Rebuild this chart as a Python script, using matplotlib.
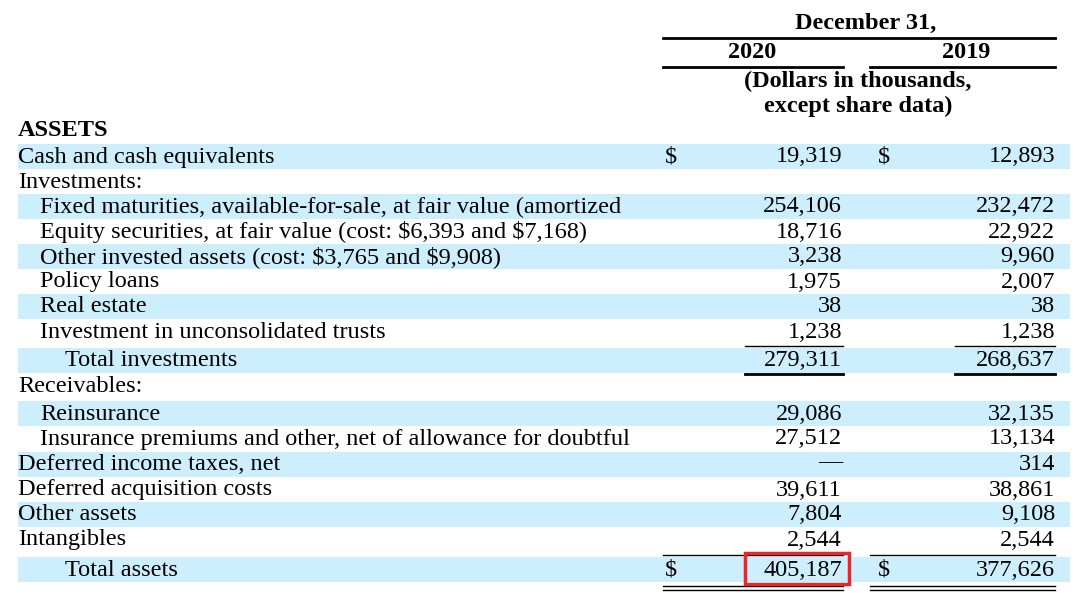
import matplotlib
matplotlib.use("Agg")
import matplotlib.pyplot as plt
plt.rcParams['text.parse_math'] = False

labels = ["Cash and cash equivalents", "Investments:",
          "Fixed maturities, available-for-sale, at fair value (amortized",
          "Equity securities, at fair value (cost: $6,393 and $7,168)",
          "Other invested assets (cost: $3,765 and $9,908)",
          "Policy loans", "Real estate", "Investment in unconsolidated trusts",
          "Total investments", "Receivables:", "Reinsurance",
          "Insurance premiums and other, net of allowance for doubtful",
          "Deferred income taxes, net", "Deferred acquisition costs",
          "Other assets", "Intangibles", "Total assets"]
indent = [0, 0, 1, 1, 1, 1, 1, 1, 2, 0, 1, 1, 0, 0, 0, 0, 2]
v2020 = ["19,319", "", "254,106", "18,716", "3,238", "1,975", "38", "1,238",
         "279,311", "", "29,086", "27,512", "\u2014", "39,611", "7,804", "2,544", "405,187"]
v2019 = ["12,893", "", "232,472", "22,922", "9,960", "2,007", "38", "1,238",
         "268,637", "", "32,135", "13,134", "314", "38,861", "9,108", "2,544", "377,626"]
ys = [157, 182, 207, 232, 257, 282, 307, 332, 361, 386, 414, 439, 465, 490, 515, 540, 570]
dollar_rows = [0, 16]

fig = plt.figure(figsize=(10.74, 5.93), dpi=100)
ax = fig.add_axes([0, 0, 1, 1])
ax.set_xlim(0, 1074); ax.set_ylim(593, 0); ax.axis("off")
fs = 17.5
font = dict(family="Liberation Serif", fontsize=fs, color="black")
blue = "#cdeefc"

for i, y in enumerate(ys):
    if i % 2 == 0:
        ax.add_patch(plt.Rectangle((18, y - 13), 1052, 25, color=blue, lw=0, zorder=0))
    ax.text(18 + [0, 22, 47][indent[i]], y, labels[i], va="center", ha="left", **font)
    if i == 12:
        ax.text(830, y - 2, v2020[i], va="center", ha="center", **font)
    else:
        ax.text(842, y, v2020[i], va="center", ha="right", **font)
    ax.text(1055, y, v2019[i], va="center", ha="right", **font, zorder=3)
    if i in dollar_rows:
        ax.text(665, y, "$", va="center", ha="left", **font)
        ax.text(878, y, "$", va="center", ha="left", **font)
# cover label overflow
ax.add_patch(plt.Rectangle((638, 190), 22, 260, color="white", lw=0, zorder=2))
for i in range(len(ys)):
    if i % 2 == 0 and 190 < ys[i] < 450:
        ax.add_patch(plt.Rectangle((638, ys[i] - 13), 22, 25, color=blue, lw=0, zorder=2.5))

bold = dict(font, weight="bold")
ax.text(866, 23, "December 31,", ha="center", va="center", **bold)
ax.plot([663, 1055], [38, 38], color="black", lw=2)
ax.text(752, 52, "2020", ha="center", va="center", **bold)
ax.text(966, 52, "2019", ha="center", va="center", **bold)
ax.plot([663, 843], [67, 67], color="black", lw=2)
ax.plot([870, 1055], [67, 67], color="black", lw=2)
ax.text(858, 81, "(Dollars in thousands,", ha="center", va="center", **bold)
ax.text(858, 106, "except share data)", ha="center", va="center", **bold)
ax.text(18, 130, "ASSETS", ha="left", va="center", **bold)

for x0, x1 in [(745, 843), (955, 1055)]:
    ax.plot([x0, x1], [346, 346], color="black", lw=1)
    ax.plot([x0, x1], [374, 374], color="black", lw=2)
for x0, x1 in [(663, 843), (870, 1055)]:
    ax.plot([x0, x1], [555, 555], color="black", lw=1)
    ax.plot([x0, x1], [586, 586], color="black", lw=1)
    ax.plot([x0, x1], [590, 590], color="black", lw=1)

ax.add_patch(plt.Rectangle((745, 553), 104, 31, fill=False, ec="#e8262c", lw=2.5, zorder=5))
fig.savefig("out.png", dpi=100)
